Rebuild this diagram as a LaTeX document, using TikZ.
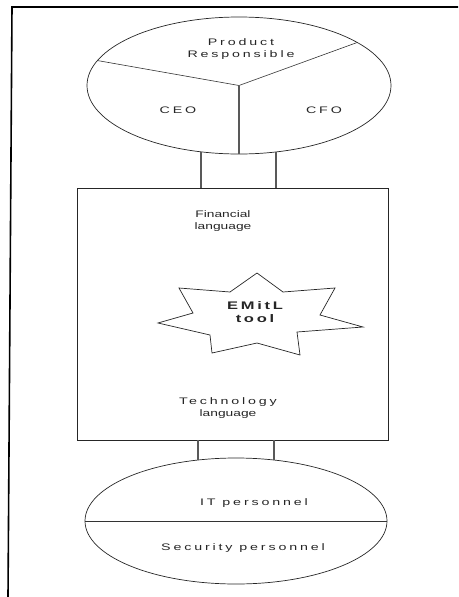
\documentclass[tikz,border=0pt]{standalone}
\usepackage{fontspec}
\setmainfont{Liberation Sans}
\newfontfamily\widefont[FakeStretch=1.5,LetterSpace=30]{Liberation Sans}
\newfontfamily\narrowfont[FakeStretch=1.45]{Liberation Sans}
\newfontfamily\boldwide[FakeStretch=1.5,LetterSpace=25]{Liberation Sans}
\usetikzlibrary{shapes.geometric}
\begin{document}
\begin{tikzpicture}[x=1pt,y=-1pt,
  outline/.style={draw=black!85,line width=0.7pt},
  oval/.style={outline,ellipse,inner sep=0pt,outer sep=0pt},
  conn/.style={draw=black!65,line width=1.6pt},
  divider/.style={draw=black!80,line width=0.6pt},
  lbl/.style={text=black!85,align=center,inner sep=0pt,font=\fontsize{9.5}{12}\selectfont\widefont},
  frameline/.style={draw=black,line width=1.6pt}]
\useasboundingbox (0,0) rectangle (458,597);
% frame
\coordinate (f1) at (12,7);
\coordinate (f2) at (458,7);
\coordinate (f3) at (8,597);
\draw[frameline] (f2) -- (f1) -- (f3);
% top ellipse
\node[oval,minimum width=304pt,minimum height=137pt] (top) at (239,85.5) {};
\draw[divider] (top.170.5) -- (top.center) -- (top.20.2);
\draw[conn] (top.center) -- (top.south);
\node[lbl] (prod) at (241,49) {Product\\Responsible};
\node[lbl] (ceo) at (178,110) {CEO};
\node[lbl] (cfo) at (324,110) {CFO};
% box
\node[outline,rectangle,minimum width=311pt,minimum height=252pt,inner sep=0pt,outer sep=0pt] (box) at (232.5,314) {};
\node[lbl] (fin) at (223,221) {{\narrowfont Financial}\\{\narrowfont language}};
\node[lbl] (tech) at (228,408) {Technology\\{\narrowfont language}};
% star
\coordinate (sT) at (257,273);
\coordinate (s1) at (283,292);
\coordinate (sUR) at (335,288);
\coordinate (s2) at (320,315);
\coordinate (sR) at (363,327);
\coordinate (s3) at (297,332);
\coordinate (sBR) at (300,355);
\coordinate (s4) at (257,343);
\coordinate (sBL) at (212,353);
\coordinate (s5) at (210,335);
\coordinate (sL) at (158,323);
\coordinate (s6) at (193,313);
\coordinate (sUL) at (179,288);
\coordinate (s7) at (230,292);
\draw[outline,line join=miter] (sT) -- (s1) -- (sUR) -- (s2) -- (sR) -- (s3) -- (sBR) -- (s4) -- (sBL) -- (s5) -- (sL) -- (s6) -- (sUL) -- (s7) -- cycle;
\node[lbl,font=\fontsize{11}{13}\selectfont\boldwide\bfseries] (tool) at (255,312.5) {EMitL\\tool};
% bottom ellipse
\node[oval,minimum width=302pt,minimum height=126pt] (bot) at (236,521) {};
\draw[divider] (bot.west) -- (bot.east);
\node[lbl] (it) at (254,503) {IT personnel};
\node[lbl] (sec) at (243,548) {Security personnel};
% connectors
\draw[conn] (top.240.9) -- (box.north -| top.240.9);
\draw[conn] (top.299.8) -- (box.north -| top.299.8);
\draw[conn] (box.south -| bot.122.6) -- (bot.122.6);
\draw[conn] (box.south -| bot.58.1) -- (bot.58.1);
\end{tikzpicture}
\end{document}
